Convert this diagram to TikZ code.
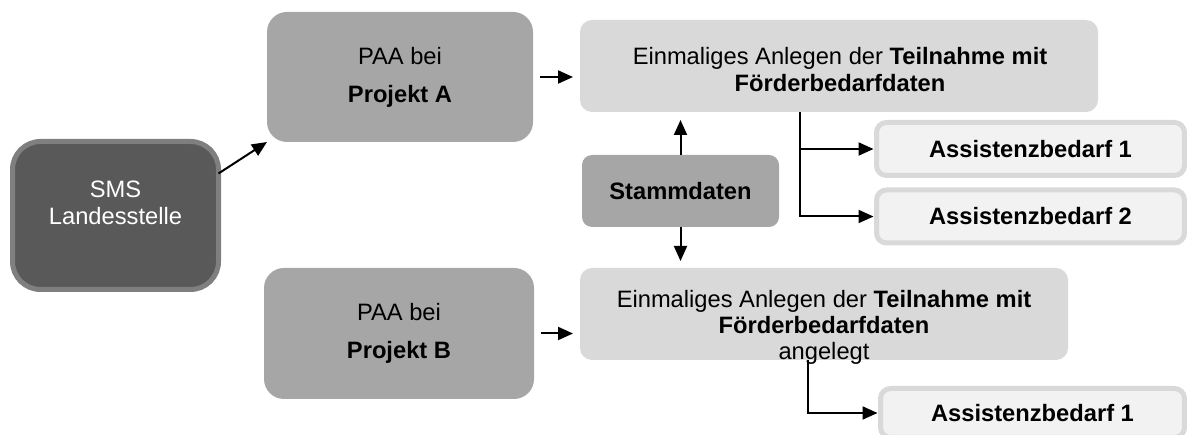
\documentclass[tikz,border=0pt]{standalone}
\usepackage{fontspec}
\setmainfont{Liberation Sans}
\usetikzlibrary{arrows.meta,calc}
\definecolor{darkfill}{HTML}{595959}
\definecolor{darkedge}{HTML}{7F7F7F}
\definecolor{midfill}{HTML}{A6A6A6}
\definecolor{lightfill}{HTML}{D9D9D9}
\definecolor{palefill}{HTML}{F2F2F2}
\definecolor{paleedge}{HTML}{D9D9D9}
\begin{document}
\begin{tikzpicture}[x=1pt,y=-1pt,
  every node/.style={inner sep=0pt,outer sep=0pt,font=\fontsize{23.7}{27}\selectfont},
  smsbox/.style={fill=darkfill,draw=darkedge,line width=5pt,rounded corners=28pt},
  paabox/.style={fill=midfill,rounded corners=20pt,align=center,font=\fontsize{23.7}{38}\selectfont},
  bigbox/.style={fill=lightfill,rounded corners=12pt},
  stammbox/.style={fill=midfill,rounded corners=10pt,font=\fontsize{23.7}{27}\selectfont\bfseries},
  assbox/.style={fill=palefill,draw=paleedge,line width=5pt,rounded corners=10pt,font=\fontsize{23.7}{27}\selectfont\bfseries},
  arr/.style={line width=2pt,-{Triangle[length=15pt,width=13pt]}},
]
\clip (0,0) rectangle (1187,435);
% boxes
\node[smsbox,minimum width=206pt,minimum height=148pt] (sms) at (115.5,215.5) {};
\node[text=white,align=center] (smstext) at (115.5,202.5) {SMS\\Landesstelle};
\node[paabox,minimum width=266pt,minimum height=130pt] (paaA) at (400,77) {PAA bei\\\textbf{Projekt A}};
\node[paabox,minimum width=270pt,minimum height=131pt] (paaB) at (399,333.5) {PAA bei\\\textbf{Projekt B}};
\node[bigbox,minimum width=518pt,minimum height=92pt] (topbox) at (839,66) {};
\node[bigbox,minimum width=488pt,minimum height=92pt] (botbox) at (824,314) {};
\node[align=center] (toptext) at (840,69.5) {Einmaliges Anlegen der \textbf{Teilnahme mit}\\\textbf{Förderbedarfdaten}};
\node[align=center,font=\fontsize{23.7}{26}\selectfont] (bottext) at (824,327) {Einmaliges Anlegen der \textbf{Teilnahme mit}\\\textbf{Förderbedarfdaten}\\angelegt};
\node[stammbox,minimum width=197pt,minimum height=72pt] (stamm) at (680.5,191) {Stammdaten};
\node[assbox,minimum width=308pt,minimum height=53pt] (ass1) at (1030.5,149) {Assistenzbedarf 1};
\node[assbox,minimum width=308pt,minimum height=53pt] (ass2) at (1030.5,216.5) {Assistenzbedarf 2};
\node[assbox,minimum width=304pt,minimum height=49pt] (ass3) at (1032.5,413) {Assistenzbedarf 1};
% connectors
\draw[arr] ([yshift=42pt]sms.east) -- (paaA.south west);
\draw[arr,shorten <=7pt,shorten >=7pt] (paaA.east) -- (paaA.east -| topbox.west);
\draw[arr,shorten <=7pt,shorten >=7pt] (paaB.east) -- (paaB.east -| botbox.west);
\draw[arr,shorten >=8pt] (stamm.north) -- (stamm.north |- topbox.south);
\draw[arr,shorten >=7pt] (stamm.south) -- (stamm.south |- botbox.north);
\draw[arr,shorten >=3pt] ([xshift=-39pt]topbox.south) |- (ass1.west);
\draw[arr,shorten >=3pt] ([xshift=-39pt]topbox.south) |- (ass2.west);
\draw[arr,shorten >=3pt] ([xshift=-16pt]botbox.south) |- (ass3.west);
\end{tikzpicture}
\end{document}
